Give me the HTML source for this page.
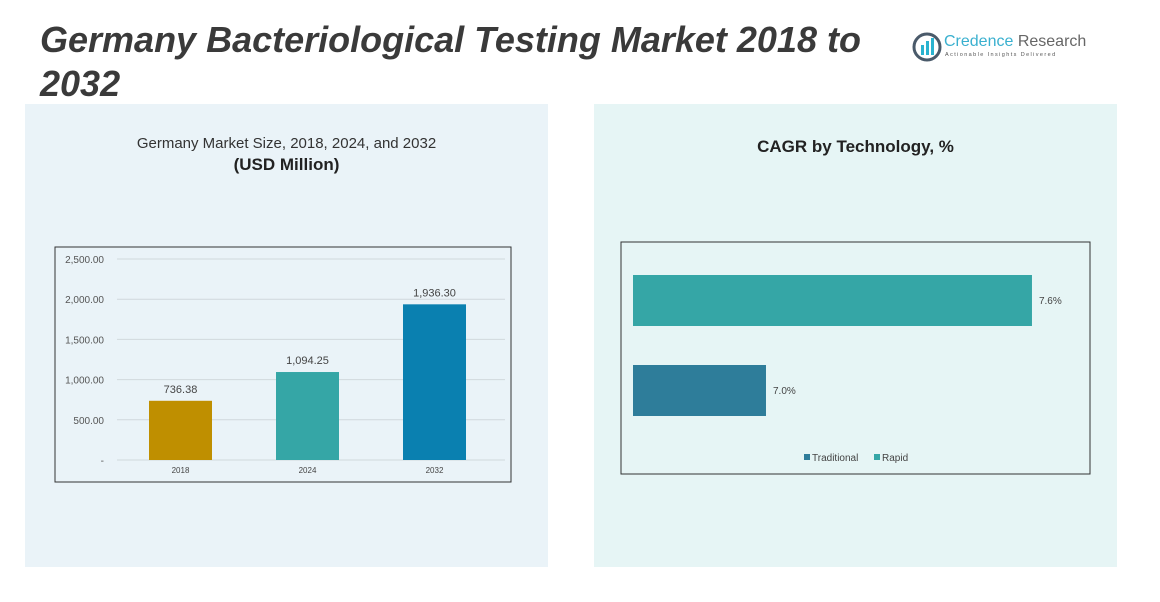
<!DOCTYPE html>
<html><head><meta charset="utf-8"><style>
body{margin:0;width:1160px;height:602px;background:#fff;font-family:"Liberation Sans",sans-serif;overflow:hidden;position:relative}
.abs{position:absolute}
</style></head><body>
<div class="abs" style="left:40px;top:18px;font-size:36px;font-weight:bold;font-style:italic;color:#3a3a3a;line-height:44px;width:870px">Germany Bacteriological Testing Market 2018 to 2032</div>
<div class="abs" style="left:912px;top:30px;width:180px;height:34px">
<svg width="30" height="30" style="position:absolute;left:0;top:2px"><circle cx="15" cy="15" r="13" fill="none" stroke="#4a5a6a" stroke-width="3"/><rect x="9" y="13" width="3" height="10" fill="#2ab3d0"/><rect x="14" y="9" width="3" height="14" fill="#2ab3d0"/><rect x="19" y="6" width="3" height="17" fill="#2ab3d0"/></svg>
<div style="position:absolute;left:32px;top:3px;font-size:16px;color:#3ab0cf;white-space:nowrap">Credence <span style="color:#666">Research</span></div>
<div style="position:absolute;left:33px;top:22px;font-size:5.5px;letter-spacing:1.4px;color:#555;white-space:nowrap">Actionable Insights Delivered</div>
</div>
<div class="abs" style="left:25px;top:104px;width:523px;height:463px;background:#eaf3f8"></div>
<div class="abs" style="left:594px;top:104px;width:523px;height:463px;background:#e6f5f5"></div>
<div class="abs" style="left:25px;top:135px;width:523px;text-align:center;font-size:15px;color:#333">Germany Market Size, 2018, 2024, and 2032</div>
<div class="abs" style="left:25px;top:155px;width:523px;text-align:center;font-size:17px;font-weight:bold;color:#222">(USD Million)</div>
<div class="abs" style="left:594px;top:137px;width:523px;text-align:center;font-size:17px;font-weight:bold;color:#222">CAGR by Technology, %</div>
<svg id="c1" class="abs" style="left:0;top:0" width="1160" height="602"></svg>
<script>
const years=["2018","2024","2032"];
const sizes=[736.38,1094.25,1936.30];
const sizeLabels=["736.38","1,094.25","1,936.30"];
const yTicks=[0,500,1000,1500,2000,2500];
const yTickLabels=["-","500.00","1,000.00","1,500.00","2,000.00","2,500.00"];
const barColors=["#bf8f00","#35a6a6","#0a80b0"];
const techs=["Rapid","Traditional"];
const cagr=[7.6,7.0];
const cagrLabels=["7.6%","7.0%"];
const techColors=["#35a6a6","#2e7d9a"];
const NS="http://www.w3.org/2000/svg";
const svg=document.getElementById('c1');
function mk(t,a,p){const e=document.createElementNS(NS,t);for(const k in a)e.setAttribute(k,a[k]);(p||svg).appendChild(e);return e;}
let f=mk('rect',{x:55,y:247,width:456,height:235,fill:'none',stroke:'#333','stroke-width':1});

const y0=460,ypx=201/2500,x0=117,cw=127;
const Y=v=>y0-v*ypx, X=i=>x0+cw*i+cw/2;
yTicks.forEach((t,i)=>{
 const l=mk('line',{x1:x0,x2:505,y1:Y(t),y2:Y(t),stroke:'#d0d8dc','stroke-width':1});
 
 const tx=mk('text',{x:104,y:Y(t)+4,'text-anchor':'end','font-size':10,fill:'#555'});tx.textContent=yTickLabels[i];
 
});
years.forEach((yr,i)=>{
 const b=mk('rect',{x:X(i)-31.5,y:Y(sizes[i]),width:63,height:sizes[i]*ypx,fill:barColors[i]});
 
 const v=mk('text',{x:X(i),y:Y(sizes[i])-8,'text-anchor':'middle','font-size':11,fill:'#444'});v.textContent=sizeLabels[i];
 
 const c=mk('text',{x:X(i),y:473,'text-anchor':'middle','font-size':8,fill:'#444'});c.textContent=yr;
 
});
let f2=mk('rect',{x:621,y:242,width:469,height:232,fill:'none',stroke:'#333','stroke-width':1});

const hx0=633,hmin=6.7,hk=443.3;
const HX=v=>hx0+(v-hmin)*hk;
techs.forEach((t,i)=>{
 const yy=275+i*90;
 const b=mk('rect',{x:hx0,y:yy,width:HX(cagr[i])-hx0,height:51,fill:techColors[i]});
 
 const v=mk('text',{x:HX(cagr[i])+7,y:yy+29,'font-size':10,fill:'#444'});v.textContent=cagrLabels[i];
 
});
[["Traditional","#2e7d9a",804],["Rapid","#35a6a6",874]].forEach(([n,c,x])=>{
 const g=mk('g',{});
 
 mk('rect',{x:x,y:454,width:6,height:6,fill:c},g);
 const t=mk('text',{x:x+8,y:461,'font-size':10,fill:'#444'},g);t.textContent=n;
});
</script>
</body></html>
